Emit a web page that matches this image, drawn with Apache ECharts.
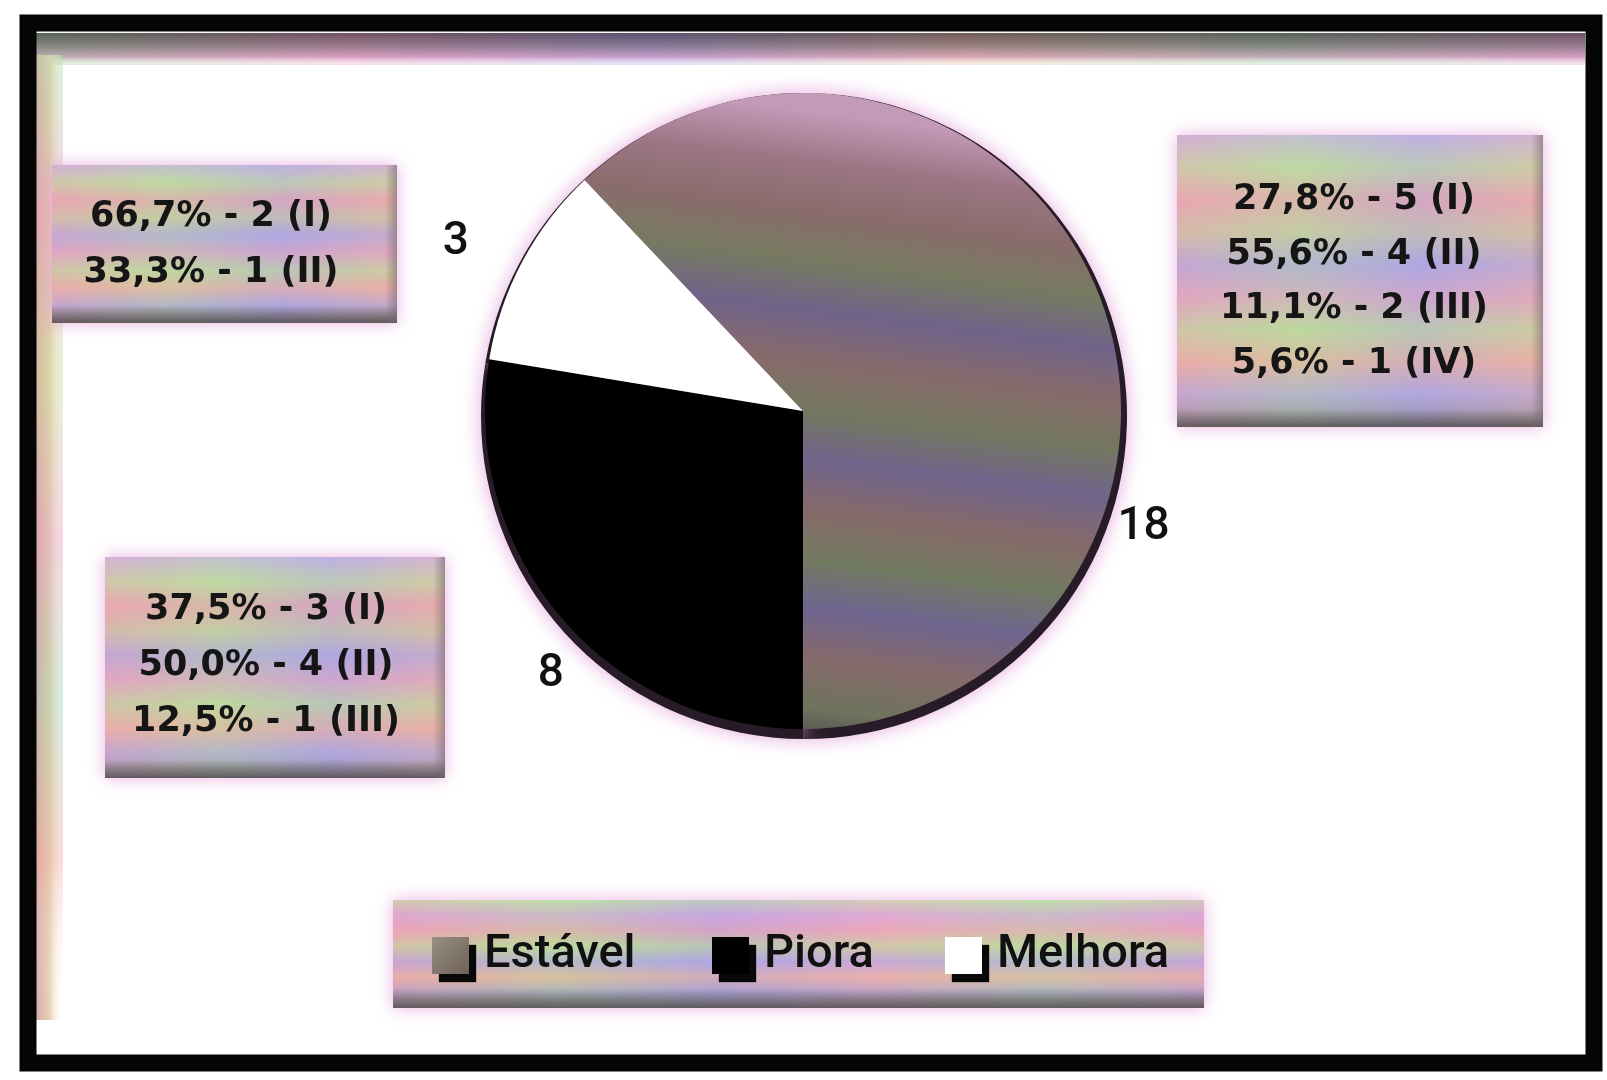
<!DOCTYPE html>
<html>
<head>
<meta charset="utf-8">
<title>Evolução</title>
<script src="https://cdn.jsdelivr.net/npm/echarts@6/dist/echarts.min.js"></script>
<style>
    html, body { margin: 0; padding: 0; background: #fff; }
    #main { width: 1607px; height: 1080px; }
</style>
</head>
<body>
<div id="main"></div>
<script>
// dados do gráfico
var categories = ['Estável', 'Piora', 'Melhora'];
var values = [18, 8, 3];
var estavelLines = ['27,8% - 5 (I)', '55,6% - 4 (II)', '11,1% - 2 (III)', '5,6% - 1 (IV)'];
var pioraLines = ['37,5% - 3 (I)', '50,0% - 4 (II)', '12,5% - 1 (III)'];
var melhoraLines = ['66,7% - 2 (I)', '33,3% - 1 (II)'];

var myChart = echarts.init(document.getElementById('main'));
var LG = echarts.graphic.LinearGradient;

// faixas coloridas tipo "digitalização"
function stripes(colors, x, y, x2, y2) {
    var stops = colors.map(function (c, i) {
        return { offset: i / (colors.length - 1), color: c };
    });
    return new LG(x, y, x2, y2, stops);
}

var boxColors = ['#c8b6e4', '#c2d8a6', '#e6a8b2', '#c9c6a8', '#b1a9e0', '#dba8c6',
                 '#c0d6a2', '#e8b2a6', '#b2a8dc', '#8e8a8c'];

var estavelFill = stripes(['#c39ab8', '#9c7684', '#8a6c6c', '#767a60', '#70638a', '#876a6c', '#74785e',
                           '#70648c', '#866a6a', '#727a60', '#6f6590', '#866a6a', '#6e745e', '#4a3c4c'],
                          0.15, 0, 0, 1);

var FONT_BOX = 'bold 35px "DejaVu Sans"';

function caixa(x, y, w, h, linhas, cx, y0, passo) {
    var els = [
        { type: 'rect', shape: { x: x, y: y, width: w, height: h }, z: 1,
          style: { fill: stripes(boxColors, 0, 0, 0, 1), shadowBlur: 16, shadowColor: 'rgba(225,150,215,0.75)' } },
        { type: 'rect', shape: { x: x, y: y, width: w, height: h }, z: 1,
          style: { fill: stripes(['rgba(240,160,180,0.3)', 'rgba(180,220,150,0.3)', 'rgba(170,160,230,0.3)',
                                  'rgba(240,175,160,0.3)'], 0, 0, 1, 0) } },
        { type: 'rect', shape: { x: x, y: y + h - 18, width: w, height: 18 }, z: 2,
          style: { fill: new LG(0, 0, 0, 1, [{ offset: 0, color: 'rgba(90,85,90,0)' }, { offset: 1, color: 'rgba(80,75,80,0.8)' }]) } },
        { type: 'rect', shape: { x: x + w - 12, y: y, width: 12, height: h }, z: 2,
          style: { fill: new LG(0, 0, 1, 0, [{ offset: 0, color: 'rgba(110,100,110,0)' }, { offset: 1, color: 'rgba(110,100,110,0.55)' }]) } }
    ];
    linhas.forEach(function (t, i) {
        els.push({ type: 'text', x: cx, y: y0 + i * passo, z: 3,
                   style: { text: t, font: FONT_BOX, fill: '#151515', align: 'center', verticalAlign: 'middle' } });
    });
    return els;
}

var graphics = [
    // moldura
    { type: 'rect', shape: { x: 35, y: 33, width: 1550, height: 32 }, z: 0,
      style: { fill: new LG(0, 0, 0, 1, [{ offset: 0, color: '#3e363c' }, { offset: 0.4, color: '#7a6c74' },
                                          { offset: 0.75, color: '#d2a2c0' }, { offset: 1, color: 'rgba(255,255,255,0)' }]) } },
    { type: 'rect', shape: { x: 35, y: 33, width: 1550, height: 32 }, z: 0,
      style: { fill: stripes(['rgba(150,200,150,0.3)', 'rgba(230,150,190,0.3)', 'rgba(160,150,230,0.3)',
                              'rgba(230,180,150,0.3)', 'rgba(150,200,160,0.3)', 'rgba(220,150,200,0.3)'], 0, 0, 1, 0) } },
    { type: 'rect', shape: { x: 35, y: 55, width: 28, height: 965 }, z: 0,
      style: { fill: new LG(0, 0, 1, 0, [{ offset: 0, color: '#d6a8ac' }, { offset: 0.5, color: '#e4cfae' },
                                          { offset: 1, color: 'rgba(255,255,255,0)' }]) } },
    { type: 'rect', shape: { x: 35, y: 55, width: 28, height: 965 }, z: 0,
      style: { fill: stripes(['rgba(170,220,160,0.4)', 'rgba(235,160,180,0.4)', 'rgba(200,220,150,0.4)',
                              'rgba(230,160,190,0.4)', 'rgba(160,210,170,0.4)', 'rgba(240,170,160,0.4)',
                              'rgba(255,255,255,0)'], 0, 0, 0, 1) } },
    { type: 'rect', shape: { x: 28, y: 23, width: 1566, height: 1040 }, z: 5,
      style: { fill: 'none', stroke: '#050505', lineWidth: 17 } },
    // caixa da legenda
    { type: 'rect', shape: { x: 393, y: 900, width: 811, height: 108 }, z: 1,
      style: { fill: stripes(['#c6e0b0', '#d6a8e0', '#eaa6b6', '#c0d89e', '#b2a8e4', '#e8b2a2', '#a9a2cf', '#8e8a88'], 0, 0, 0, 1),
               shadowBlur: 16, shadowColor: 'rgba(225,150,215,0.75)' } },
    { type: 'rect', shape: { x: 393, y: 900, width: 811, height: 108 }, z: 1,
      style: { fill: stripes(['rgba(240,160,180,0.35)', 'rgba(180,220,150,0.35)', 'rgba(170,160,230,0.35)',
                              'rgba(240,170,190,0.35)', 'rgba(180,220,160,0.35)', 'rgba(230,160,200,0.35)'], 0, 0, 1, 0) } },
    { type: 'rect', shape: { x: 393, y: 988, width: 811, height: 20 }, z: 1,
      style: { fill: new LG(0, 0, 0, 1, [{ offset: 0, color: 'rgba(90,85,90,0)' }, { offset: 1, color: 'rgba(80,75,80,0.8)' }]) } }
];
graphics = graphics.concat(
    caixa(52, 165, 345, 158, melhoraLines, 211, 217, 56),
    caixa(1177, 135, 366, 292, estavelLines, 1354, 200, 54.5),
    caixa(105, 557, 340, 221, pioraLines, 266, 610, 56)
);

var pieData = categories.map(function (name, i) {
    return { name: name, value: values[i] };
});
var sliceColors = [estavelFill, '#000000', '#ffffff'];
var legendIconColors = [new LG(0, 0, 1, 1, [{ offset: 0, color: '#9a8f84' }, { offset: 1, color: '#6e6258' }]), '#000000', '#ffffff'];

var legendCommon = {
    orient: 'horizontal',
    icon: 'rect',
    itemWidth: 37,
    itemHeight: 37,
    top: 927,
    selectedMode: false,
    itemStyle: { shadowColor: '#080808', shadowOffsetX: 7, shadowOffsetY: 8, shadowBlur: 1, borderWidth: 0 },
    textStyle: { fontFamily: 'Roboto', fontWeight: 500, fontSize: 47, color: '#111', padding: [0, 0, 0, 10] }
};

function legendFor(i, left) {
    return Object.assign({ data: [{ name: categories[i], itemStyle: { color: legendIconColors[i] } }], left: left }, legendCommon);
}

var option = {
    animation: false,
    backgroundColor: '#ffffff',
    color: sliceColors,
    graphic: graphics,
    legend: [legendFor(0, 427), legendFor(1, 707), legendFor(2, 940)],
    series: [
        {
            type: 'pie',
            name: 'Evolução',
            z: 3,
            center: [803, 411],
            radius: 318,
            startAngle: 133.4,
            clockwise: true,
            avoidLabelOverlap: false,
            data: pieData,
            itemStyle: { borderWidth: 0 },
            label: {
                show: true,
                position: 'outside',
                formatter: '{c}',
                fontFamily: 'Roboto',
                fontWeight: 500,
                fontSize: 46,
                color: '#111'
            },
            labelLine: { show: false, length: 15, length2: 0 },
            labelLayout: function (p) {
                var off = [[0, 239], [20, 48], [-35, -12]];
                return { dx: off[p.dataIndex][0], dy: off[p.dataIndex][1] };
            },
            emphasis: { disabled: true }
        },
        {
            // borda escura do disco
            type: 'pie',
            name: 'borda',
            z: 2,
            silent: true,
            center: [804, 416],
            radius: 323,
            startAngle: 133.4,
            data: pieData,
            itemStyle: { color: '#261b26', shadowBlur: 20, shadowColor: 'rgba(220,140,210,0.75)' },
            label: { show: false },
            labelLine: { show: false },
            emphasis: { disabled: true }
        }
    ]
};

myChart.setOption(option);
</script>
</body>
</html>
